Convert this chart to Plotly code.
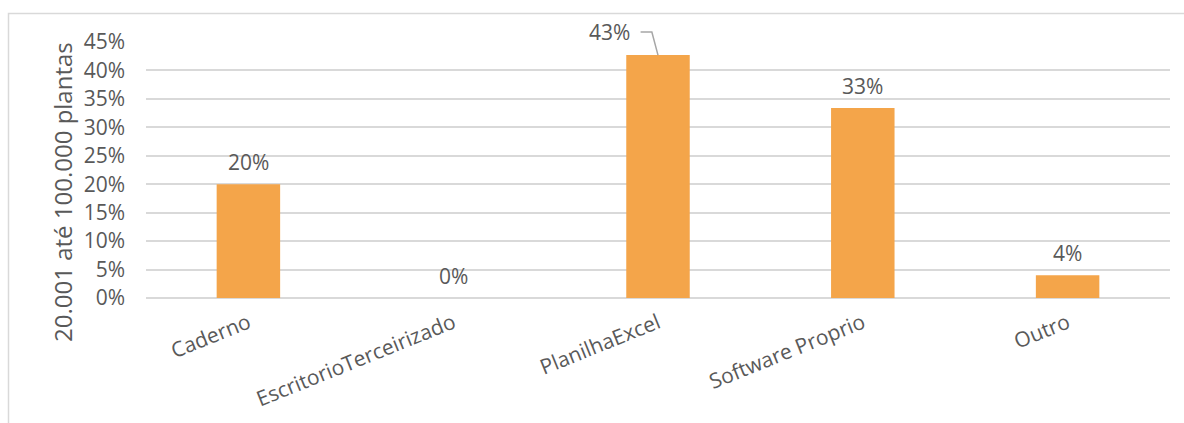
import plotly.graph_objects as go

# Share of respondents by record-keeping method (20.001 até 100.000 plantas)
categories = ["Caderno", "EscritorioTerceirizado", "PlanilhaExcel", "Software Proprio", "Outro"]
shares = [0.20, 0.0, 0.427, 0.334, 0.04]
y_ticks = [0, 0.05, 0.10, 0.15, 0.20, 0.25, 0.30, 0.35, 0.40, 0.45]
y_tick_labels = ["0%", "5%", "10%", "15%", "20%", "25%", "30%", "35%", "40%", "45%"]
y_title = "20.001 até 100.000 plantas"

W, H = 1184, 423
L, R, T, B = 146, 14, 42, 125
plot_w = W - L - R
plot_h = H - T - B
Y_MAX = 0.45

FONT = "Open Sans"
TXT = "#595959"
GRID = "#d9d9d9"
BAR = "#F4A54A"

xs = list(range(len(categories)))
n = len(categories)

fig = go.Figure()
fig.add_trace(go.Bar(
    x=xs, y=shares, width=0.31,
    marker=dict(color=BAR, line=dict(width=0)),
    hoverinfo="skip",
))


def cat_to_paper(x):
    return (x + 0.5) / n


def val_to_paper(v):
    return v / Y_MAX


def px(x):
    return (x - L) / plot_w


def py(y):
    return (H - B - y) / plot_h


# value labels; the tallest bar gets an offset label with a leader line
max_i = shares.index(max(shares))
for i, v in enumerate(shares):
    txt = f"{v * 100:.0f}%"
    if i == max_i:
        fig.add_annotation(x=i - 0.235, y=v, yshift=23, text=txt, showarrow=False,
                           xanchor="center", yanchor="middle",
                           font=dict(family=FONT, size=21, color=TXT))
        lx0 = cat_to_paper(i - 0.085)
        lx1 = cat_to_paper(i - 0.03)
        lx2 = cat_to_paper(i)
        ly0 = val_to_paper(v + 0.0405)
        ly1 = val_to_paper(v)
        fig.add_shape(type="path", xref="paper", yref="paper",
                      path=f"M {lx0} {ly0} L {lx1} {ly0} L {lx2} {ly1}",
                      line=dict(color="#a6a6a6", width=1.5))
    else:
        fig.add_annotation(x=i, y=v, yshift=22, text=txt, showarrow=False,
                           xanchor="center", yanchor="middle",
                           font=dict(family=FONT, size=21, color=TXT))

# vertical axis title
fig.add_annotation(xref="paper", yref="paper", x=px(62), y=py(192),
                   text=y_title, textangle=-90, showarrow=False,
                   xanchor="center", yanchor="middle",
                   font=dict(family=FONT, size=24, color=TXT))

# chart-area frame (left and top edges)
fig.add_shape(type="path", xref="paper", yref="paper",
              path=f"M {px(8.5)} {py(423)} L {px(8.5)} {py(13.5)} L {px(1184)} {py(13.5)}",
              line=dict(color=GRID, width=1.5))

fig.update_layout(
    width=W, height=H,
    margin=dict(l=L, r=R, t=T, b=B),
    paper_bgcolor="white", plot_bgcolor="white",
    showlegend=False,
    font=dict(family=FONT, color=TXT),
    xaxis=dict(
        range=[-0.5, n - 0.5],
        tickmode="array", tickvals=xs, ticktext=categories,
        tickangle=-22, showgrid=False, zeroline=False, showline=False,
        ticks="", tickfont=dict(family=FONT, size=21, color=TXT),
        ticklabelstandoff=8,
    ),
    yaxis=dict(
        range=[0, Y_MAX], tickmode="array", tickvals=y_ticks, ticktext=y_tick_labels,
        showgrid=True, gridcolor=GRID, gridwidth=1.5, zeroline=True,
        zerolinecolor=GRID, zerolinewidth=1.5, showline=False, ticks="",
        tickfont=dict(family=FONT, size=21, color=TXT), ticklabelstandoff=20,
    ),
)

fig.write_html("out.html")
